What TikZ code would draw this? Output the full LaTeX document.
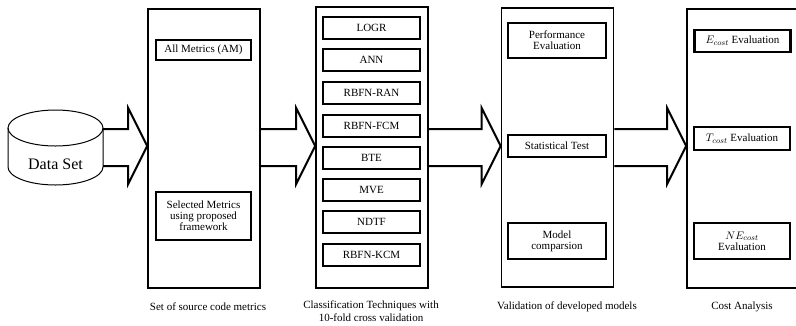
\documentclass[tikz,border=0pt]{standalone}
\usepackage{fontspec}
\setmainfont{Liberation Serif}
\usetikzlibrary{calc}
\tikzset{
  stage/.style={draw, line width=1.6pt, inner sep=0pt},
  item/.style={draw, line width=2.4pt, inner sep=1pt, align=center,
    font=\fontsize{11}{12}\selectfont},
  caption/.style={align=center, font=\fontsize{11}{13.5}\selectfont},
  fat/.style={line width=2pt, line join=miter},
}
% hollow block arrow from the right side of #1 to the left side of #2
\newcommand\fatarrow[2]{%
  \draw[fat] (#1.east |- 0,129) -- ($(#2.west |- 0,129)+(-19,0)$)
    -- ($(#2.west |- 0,108)+(-19,0)$) -- (#2.west |- 0,146)
    -- ($(#2.west |- 0,184)+(-19,0)$) -- ($(#2.west |- 0,166)+(-19,0)$)
    -- (#1.east |- 0,166);}
\begin{document}
\begin{tikzpicture}[x=1pt,y=-1pt]
\useasboundingbox (0,0) rectangle (796,325);

% data store drawn as a cylinder
\node[minimum width=95pt, minimum height=57pt, inner sep=0pt] (cyl) at (55.5,147.5) {};
\draw[line width=1pt, fill=white] (8,128) -- (8,167) arc[start angle=180, end angle=360, x radius=47.5, y radius=-18] -- (103,128);
\draw[line width=1pt] (55.5,128) ellipse[x radius=47.5, y radius=18];
\node[font=\fontsize{16}{18}\selectfont] (dstext) at (55.5,164) {Data Set};

% stage boxes
\node[stage, minimum width=112pt, minimum height=279pt] (s1) at (204,148.5) {};
\node[stage, minimum width=112pt, minimum height=281pt] (s2) at (372,147.5) {};
\node[stage, minimum width=112pt, minimum height=279pt] (s3) at (557.5,147.5) {};
\node[stage, minimum width=112pt, minimum height=279pt] (s4) at (743,148.5) {};

% metrics
\node[item, minimum width=95pt, minimum height=20pt] (am) at (203.5,50) {All Metrics (AM)};
\node[item, minimum width=95pt, minimum height=48pt] (sm) at (203.5,216) {Selected Metrics\\[-1pt]using proposed\\[-1pt]framework};

% classification techniques
\foreach \name/\txt/\yy in {c1/LOGR/28, c2/ANN/60, c3/RBFN-RAN/93, c4/RBFN-FCM/126,
    c5/BTE/158, c6/MVE/190, c7/NDTF/222, c8/RBFN-KCM/255}
  \node[item, minimum width=97pt, minimum height=22pt] (\name) at (371.5,\yy) {\txt};

% validation
\node[item, minimum width=98pt, minimum height=35pt] (pe) at (557,40.5) {Performance\\[-1pt]Evaluation};
\node[item, minimum width=98pt, minimum height=22pt] (st) at (557,146) {Statistical Test};
\node[item, minimum width=98pt, minimum height=36pt] (mc) at (557,241) {Model\\[-1pt]comparsion};

% cost analysis
\node[item, minimum width=96pt, minimum height=22pt] (ec) at (742.5,41) {$E_{cost}$ Evaluation};
\node[item, minimum width=96pt, minimum height=23pt] (tc) at (742,138.5) {$T_{cost}$ Evaluation};
\node[item, minimum width=96pt, minimum height=36pt] (nc) at (742,241) {$NE_{cost}$\\[-1pt]Evaluation};

% captions
\node[caption] (l1) at (208,307) {Set of source code metrics};
\node[caption] (l2) at (371,311) {Classification Techniques with\\10-fold cross validation};
\node[caption] (l3) at (567,307) {Validation of developed models};
\node[caption] (l4) at (742,307) {Cost Analysis};

% block arrows between stages
\fatarrow{cyl}{s1}
\fatarrow{s1}{s2}
\fatarrow{s2}{s3}
\fatarrow{s3}{s4}
\end{tikzpicture}
\end{document}
